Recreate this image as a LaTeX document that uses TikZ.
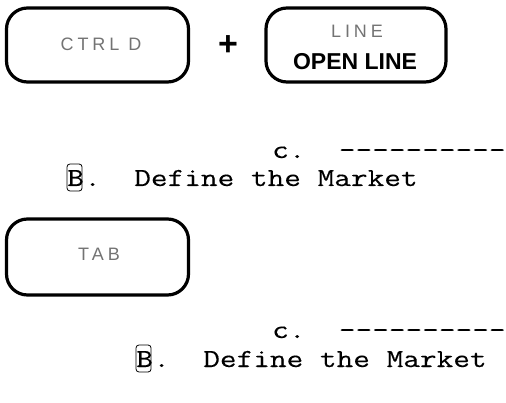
\documentclass[tikz,border=0pt]{standalone}
\usepackage{fontspec}
\setmainfont{Liberation Serif}
\newfontfamily\monof{Latin Modern Mono}[FakeStretch=1.245,FakeBold=0.25]
\newfontfamily\keyf[LetterSpace=22]{Liberation Sans}
\newfontfamily\boldf{Liberation Sans}
\usetikzlibrary{calc}
\newcommand\mydashes{-{}-{}-{}-{}-{}-{}-{}-{}-{}-}
\begin{document}
\begin{tikzpicture}[x=1pt,y=-1pt,
  keybox/.style={draw, line width=3.2pt, rounded corners=21pt, inner sep=0pt},
  keylabel/.style={font=\keyf\fontsize{18}{18}\selectfont, text=black!55, inner sep=0pt},
  boldlabel/.style={font=\boldf\bfseries\fontsize{23}{23}\selectfont, inner sep=0pt},
  mono/.style={font=\monof\fontsize{26}{26}\selectfont, inner sep=0pt, anchor=base west},
  bframe/.style={draw, line width=0.8pt, rounded corners=3pt}]
\useasboundingbox (0,0) rectangle (506,403);
% keys
\node[keybox, minimum width=182pt, minimum height=74pt] (k1) at (97.5,45) {};
\node[keybox, minimum width=180pt, minimum height=74pt] (k2) at (356,45) {};
\node[keybox, minimum width=182pt, minimum height=76pt] (k3) at (97.5,257) {};
\node[keylabel] (t1) at (101,44) {CTRL D};
\node[font=\boldf\bfseries\fontsize{34}{34}\selectfont, inner sep=0pt] (plus) at (228,46) {+};
\node[keylabel] (t2) at (357,31) {LINE};
\node[boldlabel] (t3) at (355,62) {OPEN LINE};
\node[keylabel] (t4) at (99,254) {TAB};
% first outline block
\node[mono] (c1) at (272,158) {c.\ \ \mydashes};
\node[mono] (b1) at (67,186) {B};
\node[mono] (d1) at (b1.base east) {.\ \ Define the Market};
\draw[bframe] ($(b1.base west)+(0,5)$) rectangle ($(b1.base east)+(-2,-22)$);
% second outline block
\node[mono] (c2) at (272,338) {c.\ \ \mydashes};
\node[mono] (b2) at (136,367) {B};
\node[mono] (d2) at (b2.base east) {.\ \ Define the Market};
\draw[bframe] ($(b2.base west)+(0,5)$) rectangle ($(b2.base east)+(-2,-22)$);
\end{tikzpicture}
\end{document}
